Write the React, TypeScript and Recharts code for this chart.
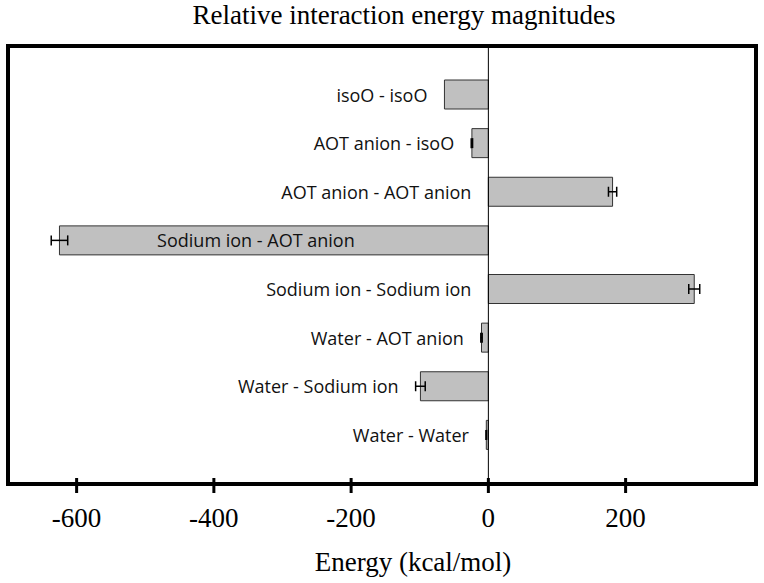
import {
  Bar,
  BarChart,
  ErrorBar,
  LabelList,
  ReferenceLine,
  XAxis,
  YAxis
} from "recharts";

const pairs = [
  "isoO - isoO",
  "AOT anion - isoO",
  "AOT anion - AOT anion",
  "Sodium ion - AOT anion",
  "Sodium ion - Sodium ion",
  "Water - AOT anion",
  "Water - Sodium ion",
  "Water - Water"
];
const energies = [-64, -24, 181, -625, 300, -10, -99, -3];
const errors = [null, 1, 6, 12, 8, 1, 7, 0.5];
const energyTicks = [-600, -400, -200, 0, 200];

const rows = pairs.map((name, i) => ({ name, energy: energies[i], err: errors[i] }));

const serif = "'Liberation Serif', 'Times New Roman', Times, serif";
const sans = "'Open Sans', 'Noto Sans', sans-serif";

function EnergyTick(props: any) {
  const { x, y, payload } = props;
  return (
    <g>
      <line x1={x} x2={x} y1={y - 6} y2={y + 9} stroke="#000" strokeWidth={3} />
      <text x={x} y={y + 43} textAnchor="middle" fontFamily={serif} fontSize={27} fill="#000">
        {payload.value}
      </text>
    </g>
  );
}

function PairLabel(props: any) {
  const { x, y, width, height, index } = props;
  const value = energies[index];
  const err = errors[index] ?? 0;
  const left = Math.min(x, x + width);
  const right = Math.max(x, x + width);
  const zeroX = value < 0 ? right : left;
  const k = Math.abs(width) / Math.abs(value || 1);
  const cy = y + height / 2 + 7;
  // long bars carry their name inside
  if (Math.abs(value) > 400) {
    return (
      <text x={(left + right) / 2 - 18} y={cy} textAnchor="middle" fontFamily={sans} fontSize={18} fill="#111">
        {pairs[index]}
      </text>
    );
  }
  const edge = zeroX + Math.min(0, value - err) * k;
  return (
    <text x={edge - 17} y={cy} textAnchor="end" fontFamily={sans} fontSize={18} fill="#111">
      {pairs[index]}
    </text>
  );
}

const frameLine = { stroke: "#000", strokeWidth: 4, strokeLinecap: "square" as const };

export default function App() {
  return (
    <div style={{ position: "absolute", left: 0, top: 0, background: "#fff" }}>
      <BarChart
        width={764}
        height={583}
        data={rows}
        layout="vertical"
        margin={{ top: 45, right: 7, bottom: 0, left: 7 }}
      >
        <XAxis
          type="number"
          domain={[-700, 390]}
          ticks={energyTicks}
          height={99}
          axisLine={frameLine}
          tickLine={false}
          tickSize={0}
          tickMargin={0}
          tick={<EnergyTick />}
          label={{
            value: "Energy (kcal/mol)",
            position: "insideBottom",
            offset: 12,
            dx: 31,
            fontFamily: serif,
            fontSize: 27,
            fill: "#000"
          }}
        />
        <XAxis
          xAxisId="top"
          orientation="top"
          type="number"
          domain={[-700, 390]}
          height={1}
          axisLine={frameLine}
          tick={false}
          tickLine={false}
          label={{
            value: "Relative interaction energy magnitudes",
            position: "top",
            offset: 21,
            dx: 22,
            fontFamily: serif,
            fontSize: 27,
            fill: "#000"
          }}
        />
        <YAxis
          type="category"
          dataKey="name"
          width={1}
          axisLine={frameLine}
          tick={false}
          tickLine={false}
          padding={{ top: 24, bottom: 25 }}
        />
        <YAxis
          yAxisId="right"
          orientation="right"
          type="category"
          dataKey="name"
          width={1}
          axisLine={frameLine}
          tick={false}
          tickLine={false}
        />
        <Bar
          dataKey="energy"
          fill="#c0c0c0"
          stroke="#333"
          strokeWidth={1}
          barSize={29}
          isAnimationActive={false}
        >
          <ErrorBar
            dataKey="err"
            direction="x"
            width={5}
            stroke="#000"
            strokeWidth={1.5}
            isAnimationActive={false}
          />
          <LabelList dataKey="name" content={<PairLabel />} />
        </Bar>
        <ReferenceLine x={0} stroke="#000" strokeWidth={1} />
      </BarChart>
    </div>
  );
}
